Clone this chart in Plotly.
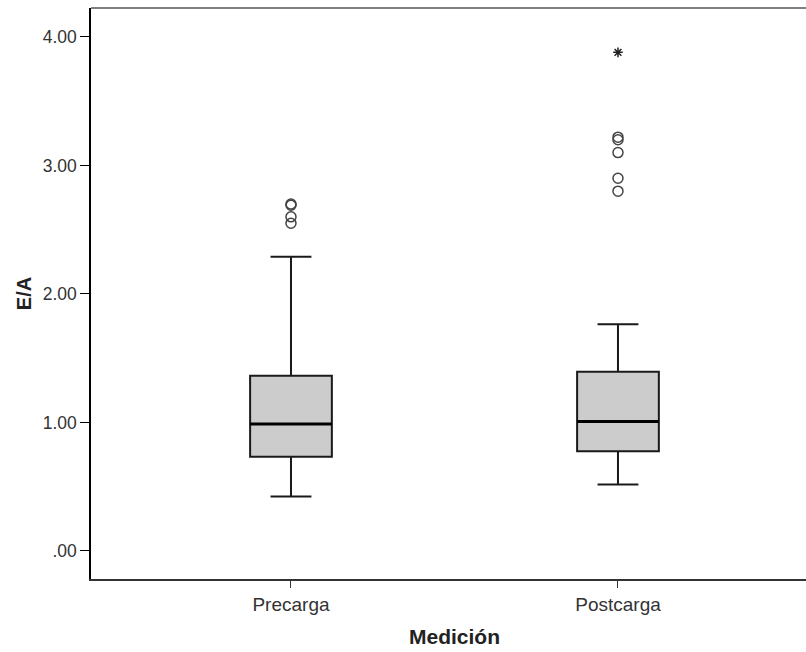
import plotly.graph_objects as go

categories = ["Precarga", "Postcarga"]
q1 = [0.733, 0.777]
median = [0.988, 1.008]
q3 = [1.364, 1.395]
lower_whisker = [0.423, 0.517]
upper_whisker = [2.29, 1.764]
outliers_circle = [[2.70, 2.69, 2.60, 2.55], [3.22, 3.20, 3.10, 2.90, 2.80]]
outliers_extreme = [[], [3.88]]
y_ticks = [0, 1, 2, 3, 4]
y_tick_labels = [".00", "1.00", "2.00", "3.00", "4.00"]

positions = list(range(len(categories)))
box_w = 0.25

fig = go.Figure()
for i, cat in enumerate(categories):
    fig.add_trace(go.Box(
        x=[positions[i]], q1=[q1[i]], median=[median[i]], q3=[q3[i]],
        lowerfence=[lower_whisker[i]], upperfence=[upper_whisker[i]],
        width=box_w, whiskerwidth=0.5, fillcolor="#cccccc",
        line=dict(color="#1a1a1a", width=2), boxpoints=False,
        showlegend=False, hoverinfo="skip"))
    fig.add_trace(go.Scatter(
        x=[positions[i] - box_w / 2, positions[i] + box_w / 2],
        y=[median[i], median[i]], mode="lines",
        line=dict(color="black", width=3), showlegend=False, hoverinfo="skip"))
    if outliers_circle[i]:
        fig.add_trace(go.Scatter(
            x=[positions[i]] * len(outliers_circle[i]), y=outliers_circle[i],
            mode="markers", marker=dict(symbol="circle-open", size=10, color="#444444",
                                        line=dict(color="#444444", width=1.5)),
            showlegend=False, hoverinfo="skip"))
    if outliers_extreme[i]:
        fig.add_trace(go.Scatter(
            x=[positions[i]] * len(outliers_extreme[i]), y=outliers_extreme[i],
            mode="markers", marker=dict(symbol="asterisk-open", size=8, color="#222222",
                                        line=dict(color="#222222", width=1.5)),
            showlegend=False, hoverinfo="skip"))

fig.add_shape(type="line", xref="paper", yref="paper", x0=0, x1=1, y0=1, y1=1,
              line=dict(color="#808080", width=2))

fig.add_annotation(text="<b>Medición</b>", xref="paper", yref="paper", x=0.508, y=0,
                   xanchor="center", yanchor="top", yshift=-44, showarrow=False,
                   font=dict(size=21, color="#222222"))

fig.update_layout(
    width=806, height=652,
    margin=dict(l=91, r=0, t=8, b=73),
    paper_bgcolor="white", plot_bgcolor="white",
    font=dict(family="Liberation Sans, Arial, sans-serif", color="#333333", size=17),
    xaxis=dict(range=[-0.6116, 1.575], tickvals=positions, ticktext=categories,
               showgrid=False, zeroline=False, showline=True, linecolor="#333333",
               linewidth=2, ticks="outside", ticklen=7, tickcolor="#333333",
               tickfont=dict(size=19, color="#333333")),
    yaxis=dict(range=[-0.218, 4.225], tickvals=y_ticks, ticktext=y_tick_labels,
               showgrid=False, zeroline=False, showline=True, linecolor="black",
               linewidth=1.5, ticks="outside", ticklen=9, tickcolor="black",
               tickfont=dict(size=17.5, color="#333333"),
               title=dict(text="<b>E/A</b>", font=dict(size=20, color="#222222"), standoff=6)),
)

fig.write_html("out.html")
